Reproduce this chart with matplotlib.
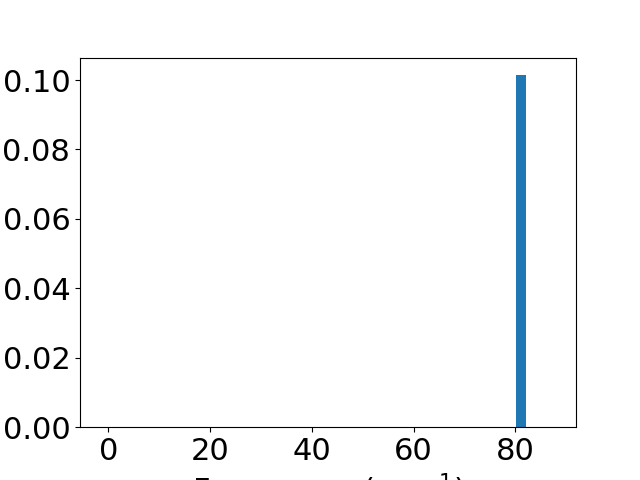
import matplotlib
matplotlib.use("Agg")
import matplotlib.pyplot as plt

# bin left edges / widths and heights
bin_left = [80.1]
bin_width = [1.9]
counts = [0.1014]

plt.rcParams["font.size"] = 22

fig, ax = plt.subplots(figsize=(6.4, 4.8), dpi=100)
ax.bar(bin_left, counts, width=bin_width, align="edge", color="C0")
ax.set_xlim(-5.56, 91.9)
ax.set_xticks([0, 20, 40, 60, 80])
ax.set_xlabel("Frequency (cm$^{-1}$)")

fig.savefig("out.png")
